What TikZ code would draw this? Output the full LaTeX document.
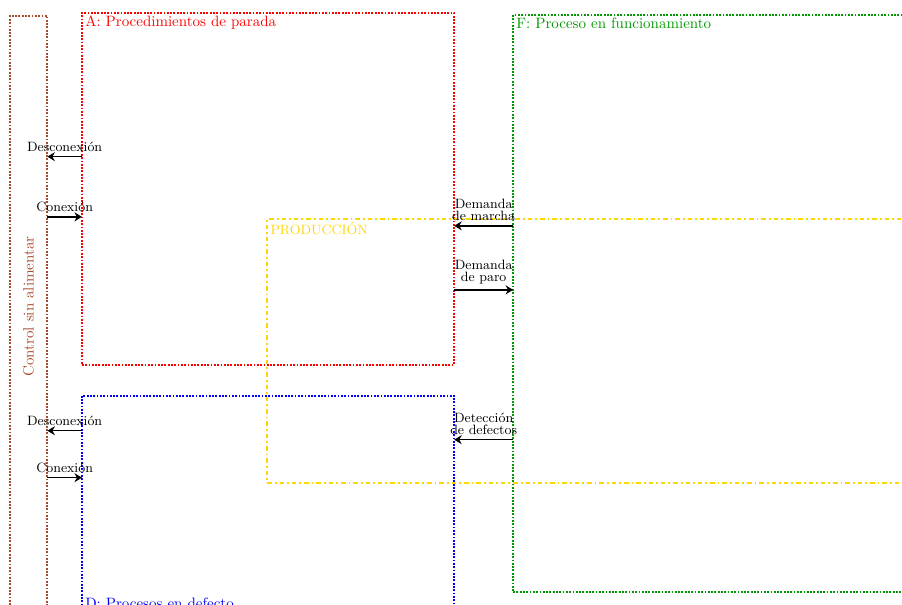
\documentclass[tikz,border=0pt]{standalone}
\usetikzlibrary{arrows.meta}
\definecolor{marron}{rgb}{0.65,0.3,0.18}
\definecolor{verde}{rgb}{0,0.6,0}
\definecolor{oro}{rgb}{1,0.84,0}
\begin{document}
\begin{tikzpicture}[>={Stealth[length=5pt,width=6pt]}, x=1cm, y=1cm,
    zona/.style={draw, very thick, densely dotted, rectangle, inner sep=0pt, outer sep=0pt, anchor=north west},
    titulo/.style={anchor=north west, inner sep=2pt},
    flecha/.style={->, line width=1pt, black},
    etiqueta/.style={font=\small, align=center, inner sep=1pt, above=2pt}]
  \useasboundingbox (0,0) rectangle (21.13,14.17);
  \clip (0,0) rectangle (21.13,14.17);
  % zonas
  \node[zona, draw=marron, minimum width=0.87cm, minimum height=14.5cm] (ctl) at (0.24,13.80) {};
  \node[zona, draw=red, minimum width=8.72cm, minimum height=8.25cm] (A) at (1.92,13.87) {};
  \node[zona, draw=blue, minimum width=8.72cm, minimum height=5.06cm] (D) at (1.92,4.90) {};
  \node[zona, draw=verde, minimum width=9.4cm, minimum height=13.52cm] (F) at (12.02,13.82) {};
  \node[zona, solid, dashdotted, draw=oro, minimum width=15cm, minimum height=6.18cm] (P) at (6.26,9.04) {};
  % titulos
  \node[titulo, text=red] (tA) at (A.north west) {A: Procedimientos de parada};
  \node[titulo, anchor=south west, text=blue] (tD) at (D.south west) {D: Procesos en defecto};
  \node[titulo, text=verde] (tF) at (F.north west) {F: Proceso en funcionamiento};
  \node[titulo, font=\small, text=oro] (tP) at (P.north west) {PRODUCCIÓN};
  \node[rotate=90, text=marron] (tctl) at (0.67,6.99) {Control sin alimentar};
  % flechas
  \draw[flecha] (A.west |- 0,10.50) -- node[etiqueta] (l1) {Desconexión} (ctl.east |- 0,10.50);
  \draw[flecha] (ctl.east |- 0,9.09) -- node[etiqueta] (l2) {Conexión} (A.west |- 0,9.09);
  \draw[flecha] (D.west |- 0,4.08) -- node[etiqueta] (l3) {Desconexión} (ctl.east |- 0,4.08);
  \draw[flecha] (ctl.east |- 0,2.98) -- node[etiqueta] (l4) {Conexión} (D.west |- 0,2.98);
  \draw[flecha] (F.west |- 0,8.88) -- node[etiqueta] (l5) {Demanda\\[-3pt]de marcha} (A.east |- 0,8.88);
  \draw[flecha] (A.east |- 0,7.38) -- node[etiqueta] (l6) {Demanda\\[-3pt]de paro} (F.west |- 0,7.38);
  \draw[flecha] (F.west |- 0,3.87) -- node[etiqueta] (l7) {Detección\\[-3pt]de defectos} (D.east |- 0,3.87);
\end{tikzpicture}
\end{document}
